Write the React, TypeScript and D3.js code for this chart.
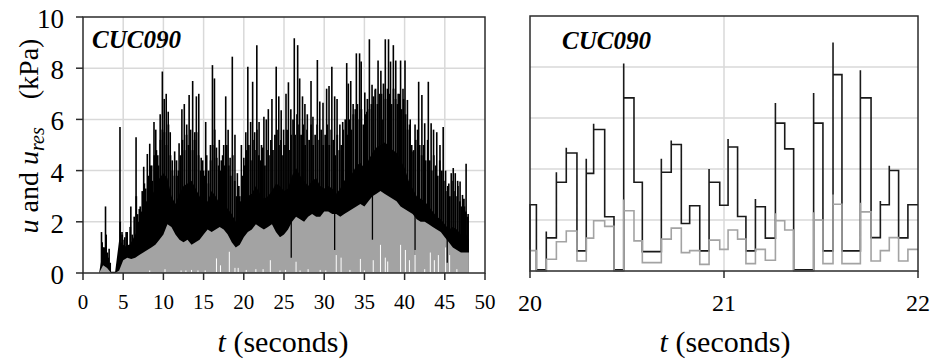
import React from 'react';
import * as d3 from 'd3';

// ---- left panel: whole record, sampled every 0.5 s from t = 2 s ----
const sampleStart = 2;
const sampleStep = 0.5;

// solid black level of u (kPa)
const uBody = [
  0, 0.9, 0.6, 0.05, 0.05, 1.3, 1.1, 1.0, 1.2, 1.5, 1.8, 2.3, 2.8, 3.0, 3.3, 3.7, 3.9, 3.7, 3.0, 2.7,
  3.1, 3.4, 3.5, 3.6, 3.3, 3.0, 2.7, 2.8, 3.2, 3.0, 2.7, 2.8, 2.5, 2.3, 2.0, 1.9, 2.5, 3.0, 3.1, 3.4,
  3.1, 2.9, 3.0, 3.2, 3.5, 3.4, 3.2, 3.3, 3.8, 4.1, 3.8, 3.6, 3.4, 3.6, 3.7, 3.4, 3.3, 3.4, 3.3, 3.1,
  3.3, 3.6, 3.8, 3.9, 4.2, 4.3, 4.1, 4.4, 4.7, 4.9, 5.0, 5.1, 5.0, 4.8, 4.7, 4.4, 4.1, 3.6, 3.3, 3.0,
  2.9, 2.8, 2.6, 2.4, 2.2, 2.1, 1.9, 1.7, 1.8, 1.7, 1.5, 1.6, 1.3,
];

// residual u_res (kPa), same sampling
const uResLevel = [
  0, 0.3, 0.2, 0, 0, 0.1, 0.5, 0.6, 0.55, 0.6, 0.7, 0.8, 0.9, 1.0, 1.1, 1.3, 1.5, 1.9, 1.8, 1.5,
  1.3, 1.2, 1.3, 1.1, 1.2, 1.3, 1.5, 1.7, 1.6, 1.7, 1.8, 1.7, 1.5, 1.2, 1.0, 1.1, 1.4, 1.6, 1.7, 1.9,
  1.8, 1.7, 1.8, 1.9, 1.6, 1.4, 1.5, 1.7, 2.0, 2.2, 2.1, 2.0, 2.2, 2.3, 2.2, 2.2, 2.4, 2.4, 2.3, 2.3,
  2.2, 2.3, 2.4, 2.5, 2.6, 2.7, 2.6, 2.8, 3.0, 3.1, 3.2, 3.1, 3.0, 2.9, 2.8, 2.6, 2.5, 2.4, 2.3, 2.1,
  2.0, 2.0, 1.9, 1.8, 1.7, 1.6, 1.4, 1.2, 1.0, 0.9, 0.8, 0.8, 0.8,
];

// spiky mass of u, one value per 0.25 s from t = 2.125 s (kPa)
const teethStart = 2.125;
const teethStep = 0.25;
const uTeeth = [
  0, 1.2, 1.0, 1.5, 0.6, 0.4, 0, 0, 0, 0.1, 2.0, 1.5,
  1.3, 1.6, 1.1, 1.8, 1.5, 2.2, 3.0, 2.0, 2.6, 3.2, 3.5, 2.8,
  3.8, 4.2, 3.6, 4.6, 4.8, 4.2, 5.2, 5.6, 5.5, 5.0, 5.8, 4.6,
  4.0, 3.8, 4.4, 4.0, 4.6, 5.2, 4.8, 5.4, 5.0, 5.6, 4.8, 5.2,
  5.5, 4.6, 4.0, 4.4, 3.8, 4.6, 4.0, 4.4, 5.0, 5.6, 4.5, 4.2,
  4.0, 4.6, 4.2, 5.0, 4.2, 3.8, 4.6, 3.6, 3.0, 3.4, 2.8, 3.8,
  4.2, 4.8, 5.0, 4.4, 5.2, 4.8, 5.6, 4.6, 4.4, 4.9, 4.2, 4.8,
  4.6, 5.2, 4.8, 5.4, 5.6, 5.0, 5.2, 4.6, 5.0, 5.6, 4.8, 5.4,
  6.0, 5.4, 6.2, 5.8, 5.4, 5.8, 5.0, 5.6, 5.2, 5.8, 5.0, 5.4,
  5.8, 5.2, 5.6, 5.0, 5.4, 5.8, 5.0, 5.6, 5.2, 4.6, 5.4, 4.8,
  5.0, 5.6, 6.0, 5.4, 6.0, 5.6, 6.2, 6.4, 6.6, 6.0, 6.4, 5.8,
  6.2, 6.8, 6.4, 6.6, 6.9, 7.2, 6.6, 7.0, 7.0, 7.4, 6.8, 7.2,
  7.0, 6.6, 7.2, 6.8, 6.6, 7.0, 6.4, 6.8, 6.2, 5.6, 5.8, 5.0,
  4.8, 5.2, 5.6, 5.0, 4.6, 5.0, 4.4, 5.2, 4.4, 4.0, 4.6, 4.2,
  3.8, 4.4, 4.0, 3.6, 3.2, 3.4, 3.0, 3.6, 3.2, 3.0, 3.4, 2.8,
  2.6, 2.9, 2.4, 2.2,
];

// individual peaks of u: [t (s), u (kPa)]
const uSpikes: [number, number][] = [
  [2.3, 1.6], [2.55, 1.0], [2.8, 2.6], [3.05, 0.8], [3.25, 0.95],
  [4.6, 5.7], [4.85, 1.6], [5.2, 1.4], [5.5, 1.6], [5.95, 2.6], [6.6, 5.3], [6.8, 2.3], [7.0, 2.5],
  [7.3, 2.4], [7.55, 4.15], [7.8, 3.3], [8.0, 4.65], [8.3, 5.05], [8.55, 4.2], [8.83, 5.9], [9.05, 5.6],
  [9.3, 4.6], [9.6, 6.2], [9.87, 7.87], [10.1, 6.8], [10.35, 7.0], [10.6, 6.3], [10.85, 5.5], [11.1, 4.4],
  [11.4, 4.75], [11.7, 3.8], [11.95, 5.07], [12.3, 6.4], [12.6, 6.6], [12.9, 5.8], [13.2, 6.95],
  [13.64, 7.5], [13.9, 5.5], [14.1, 6.9], [14.4, 7.0], [14.7, 4.5], [15.0, 4.0], [15.26, 5.9],
  [15.6, 3.5], [15.85, 5.0], [16.1, 8.12], [16.35, 7.6], [16.6, 4.9], [16.95, 5.2], [17.2, 4.4],
  [17.5, 5.0], [17.75, 6.9], [18.05, 5.6], [18.3, 4.5], [18.57, 8.45], [18.9, 5.4], [19.2, 3.9],
  [19.5, 3.0], [19.7, 5.0], [20.0, 4.5], [20.25, 5.5], [20.5, 8.06], [20.85, 5.9], [21.1, 7.47],
  [21.35, 5.5], [21.62, 8.9], [21.9, 5.9], [22.2, 5.0], [22.5, 6.1], [22.8, 6.0], [23.05, 6.4],
  [23.5, 6.8], [24.03, 8.06], [24.35, 6.9], [24.65, 6.36], [24.95, 5.6], [25.25, 7.0], [25.55, 7.45],
  [25.85, 6.4], [26.28, 9.17], [26.7, 8.9], [26.95, 7.6], [27.3, 6.9], [27.6, 6.6], [27.9, 6.2],
  [28.36, 7.5], [28.6, 6.1], [29.15, 8.32], [29.45, 6.7], [29.85, 6.65], [30.3, 7.2], [30.6, 7.3],
  [30.95, 8.06], [31.3, 6.9], [31.6, 6.8], [31.95, 5.8], [32.3, 5.9], [32.8, 8.2], [33.0, 7.4],
  [33.3, 7.5], [33.6, 6.6], [34.0, 8.58], [34.4, 8.58], [34.6, 8.26], [35.05, 7.05], [35.3, 6.3],
  [35.62, 9.13], [35.95, 7.35], [36.35, 7.15], [36.7, 8.3], [37.05, 7.9], [37.3, 6.0], [37.6, 9.13],
  [38.0, 9.13], [38.25, 8.26], [38.6, 8.9], [38.9, 8.3], [39.2, 7.0], [39.5, 8.3], [39.8, 7.2],
  [40.05, 8.3], [40.35, 6.76], [40.7, 6.0], [41.05, 4.75], [41.3, 5.8], [41.75, 7.47], [42.15, 6.95],
  [42.5, 5.85], [42.95, 7.47], [43.3, 5.85], [43.6, 5.6], [44.0, 5.5], [44.4, 5.0], [44.8, 5.7],
  [45.1, 4.0], [45.5, 3.5], [45.8, 3.9], [46.05, 4.1], [46.3, 3.9], [46.6, 3.6], [46.9, 3.57],
  [47.2, 3.05], [47.45, 2.6], [47.65, 4.27], [47.9, 2.3],
];

// moments where u_res drops out: [t, height of the gap]
const resGaps: [number, number][] = [
  [8.3, 0.1], [10.2, 0.15], [12.2, 0.1], [12.8, 0.1], [13.5, 0.12], [14.3, 0.1], [15.2, 0.1],
  [16.6, 0.57], [17.1, 0.3], [18.2, 0.83], [18.9, 0.2], [19.3, 0.2], [20.3, 0.12], [21.5, 0.15],
  [22.4, 0.15], [23.3, 0.5], [24.5, 0.1], [25.2, 0.12], [26.5, 0.44], [27.0, 0.1], [28.0, 0.15],
  [29.5, 0.12], [30.2, 0.1], [31.5, 0.7], [32.1, 0.6], [33.2, 0.12], [34.5, 0.55], [35.0, 0.1],
  [36.1, 0.5], [37.0, 1.1], [37.6, 0.6], [37.9, 0.45], [39.5, 1.1], [40.1, 0.9], [40.6, 0.5],
  [41.3, 0.9], [42.5, 0.15], [43.2, 0.8], [43.7, 0.5], [44.2, 0.7], [45.1, 1.0], [45.6, 0.7], [46.5, 0.15],
];

// moments where u falls below the residual level: [t, u]
const uDips: [number, number][] = [
  [25.9, 0.6], [31.3, 0.9], [36.0, 1.3], [41.3, 0.7], [45.3, 0.4],
];

// ---- right panel: zoom on 20-22 s ----
const stepTimes = [
  20.0, 20.033, 20.084, 20.136, 20.187, 20.242, 20.29, 20.328, 20.385, 20.433, 20.483, 20.536, 20.579,
  20.677, 20.728, 20.78, 20.823, 20.875, 20.923, 20.978, 21.021, 21.07, 21.113, 21.162, 21.213, 21.265,
  21.313, 21.359, 21.462, 21.51, 21.562, 21.608, 21.703, 21.758, 21.806, 21.852, 21.9, 21.948,
];
const stepEnd = 22.0;
const uStep = [
  2.6, 0.05, 1.3, 3.48, 4.63, 0.79, 3.83, 5.55, 2.13, 0.05, 6.79, 3.48, 0.76, 3.87, 4.96, 1.86, 2.56,
  0.79, 3.48, 2.58, 4.86, 2.14, 0.79, 2.52, 1.29, 5.8, 4.79, 0.05, 5.8, 0.79, 7.7, 0.79, 6.79, 1.31,
  2.6, 3.94, 1.3, 2.6,
];
const uStepPeak: (number | null)[] = [
  null, null, 1.55, 3.87, 4.83, null, 4.4, 5.77, null, null, 8.14, null, null, 4.4, 5.12, null, null,
  null, 4.0, null, 5.18, null, null, 2.82, null, 6.59, null, null, 6.98, null, 8.96, null, 7.87, null,
  2.75, 4.13, null, null,
];
const resStep = [
  0.8, 0, 0.46, 1.15, 1.57, 0.39, 1.29, 1.97, 1.75, 0, 2.36, 1.18, 0.33, 1.25, 1.68, 0.72, 0.8, 0.26,
  1.21, 0.85, 1.61, 1.25, 0.29, 0.85, 0.42, 1.97, 1.61, 0, 2.0, 0.29, 2.62, 0.29, 2.32, 0.39, 0.8,
  1.31, 0.39, 0.85,
];
const resStepPeak: (number | null)[] = [
  null, null, null, null, null, null, null, null, null, null, 2.8, null, null, null, null, null, null,
  null, null, null, null, null, null, null, null, 2.26, null, null, 2.3, null, 3.0, null, 2.68, null,
  null, null, null, null,
];

const leftXTicks = [0, 5, 10, 15, 20, 25, 30, 35, 40, 45, 50];
const yTicks = [0, 2, 4, 6, 8, 10];
const rightXTicks = [20, 21, 22];

const serif = 'Times New Roman';
const gridColor = '#d9d9d9';
const frameColor = '#2b2b2b';
const resColor = '#a3a3a3';

function stepPoints(times: number[], vals: number[], peaks: (number | null)[], end: number) {
  const pts: [number, number][] = [];
  let prev = 0;
  times.forEach((t, i) => {
    pts.push([t, prev]);
    const p = peaks[i];
    if (p != null) pts.push([t, p]);
    pts.push([t, vals[i]]);
    prev = vals[i];
    pts.push([i + 1 < times.length ? times[i + 1] : end, prev]);
  });
  return pts;
}

const App = () => {
  const xL = d3.scaleLinear().domain([0, 50]).range([83, 485]);
  const yL = d3.scaleLinear().domain([0, 10]).range([273, 17]);
  const xR = d3.scaleLinear().domain([20, 22]).range([530, 918]);
  const yR = d3.scaleLinear().domain([0, 10]).range([271, 16]);

  const tAt = (i: number) => sampleStart + i * sampleStep;

  const bodyArea = d3.area<number>()
    .x((_, i) => xL(tAt(i)))
    .y0(yL(0))
    .y1(d => yL(d));

  const resAt = (t: number) => {
    const i = Math.min(uResLevel.length - 1, Math.max(0, Math.round((t - sampleStart) / sampleStep)));
    return uResLevel[i];
  };

  const line = d3.line<[number, number]>()
    .x(d => xR(d[0]))
    .y(d => yR(d[1]));

  const uPts = stepPoints(stepTimes, uStep, uStepPeak, stepEnd);
  const resPts = stepPoints(stepTimes, resStep, resStepPeak, stepEnd);

  const txt = { fontFamily: serif };

  return (
    <svg width={934} height={363} style={{ position: 'absolute', left: 0, top: 0, background: '#fff' }}>
      {/* left panel grid */}
      <g stroke={gridColor} strokeWidth={1.5}>
        {leftXTicks.slice(1, -1).map(t => (
          <line key={'gx' + t} x1={xL(t)} x2={xL(t)} y1={yL(0)} y2={yL(10)} />
        ))}
        {yTicks.slice(1, -1).map(v => (
          <line key={'gy' + v} x1={xL(0)} x2={xL(50)} y1={yL(v)} y2={yL(v)} />
        ))}
      </g>

      {/* left panel data */}
      <path d={bodyArea(uBody) || ''} fill="#000" />
      <g stroke="#000" strokeWidth={1.8}>
        {uTeeth.map((v, i) => (
          <line key={'k' + i} x1={xL(teethStart + i * teethStep)} x2={xL(teethStart + i * teethStep)}
            y1={yL(0)} y2={yL(v)} />
        ))}
      </g>
      <g stroke="#000" strokeWidth={1.6}>
        {uSpikes.map(([t, v], i) => (
          <line key={'s' + i} x1={xL(t)} x2={xL(t)} y1={yL(0)} y2={yL(v)} />
        ))}
      </g>
      <path d={bodyArea(uResLevel) || ''} fill={resColor} />
      <g stroke="#000" strokeWidth={1.3}>
        {uDips.map(([t, v], i) => (
          <line key={'d' + i} x1={xL(t)} x2={xL(t)} y1={yL(v)} y2={yL(resAt(t) + 0.3)} />
        ))}
      </g>
      <g stroke="#fff" strokeWidth={1}>
        {resGaps.map(([t, h], i) => (
          <line key={'g' + i} x1={xL(t)} x2={xL(t)} y1={yL(0) - 1} y2={yL(h)} />
        ))}
      </g>

      {/* left panel frame and ticks */}
      <rect x={xL(0)} y={yL(10)} width={xL(50) - xL(0)} height={yL(0) - yL(10)}
        fill="none" stroke={frameColor} strokeWidth={1.5} />
      <g stroke={frameColor} strokeWidth={1.5}>
        {yTicks.map(v => (
          <line key={'ty' + v} x1={xL(0) - 7} x2={xL(0)} y1={yL(v)} y2={yL(v)} />
        ))}
        {leftXTicks.map(t => (
          <line key={'tx' + t} x1={xL(t)} x2={xL(t)} y1={yL(0)} y2={yL(0) + 7} />
        ))}
      </g>
      {yTicks.map(v => (
        <text key={'ly' + v} x={64} y={yL(v) + 11} style={txt} fontSize={27} textAnchor="end">{v}</text>
      ))}
      {leftXTicks.map(t => (
        <text key={'lx' + t} x={xL(t)} y={309} style={txt} fontSize={21} textAnchor="middle">{t}</text>
      ))}
      <text x={283} y={352} style={txt} fontSize={30} textAnchor="middle">
        <tspan fontStyle="italic">t</tspan> (seconds)
      </text>
      <text transform="translate(38,136) rotate(-90)" style={txt} fontSize={28} textAnchor="middle">
        <tspan fontStyle="italic">u</tspan> and <tspan fontStyle="italic">u</tspan>
        <tspan fontStyle="italic" fontSize={20} dy={6}>res</tspan>
        <tspan dy={-6} dx={28}>(kPa)</tspan>
      </text>
      <text x={92} y={48} style={txt} fontSize={25} fontWeight="bold" fontStyle="italic">CUC090</text>

      {/* right panel grid */}
      <g stroke={gridColor} strokeWidth={1.5}>
        <line x1={xR(21)} x2={xR(21)} y1={yR(0)} y2={yR(10)} />
        {yTicks.slice(1, -1).map(v => (
          <line key={'rgy' + v} x1={xR(20)} x2={xR(22)} y1={yR(v)} y2={yR(v)} />
        ))}
      </g>

      {/* right panel data */}
      <path d={line(uPts) || ''} fill="none" stroke="#1a1a1a" strokeWidth={1.6} />
      <path d={line(resPts) || ''} fill="none" stroke={resColor} strokeWidth={1.6} />

      {/* right panel frame and ticks */}
      <rect x={xR(20)} y={yR(10)} width={xR(22) - xR(20)} height={yR(0) - yR(10)}
        fill="none" stroke={frameColor} strokeWidth={1.5} />
      <g stroke={frameColor} strokeWidth={1.5}>
        {rightXTicks.map(t => (
          <line key={'rtx' + t} x1={xR(t)} x2={xR(t)} y1={yR(0)} y2={yR(0) + 7} />
        ))}
      </g>
      {rightXTicks.map(t => (
        <text key={'rlx' + t} x={xR(t)} y={311} style={txt} fontSize={24} textAnchor="middle">{t}</text>
      ))}
      <text x={725} y={352} style={txt} fontSize={30} textAnchor="middle">
        <tspan fontStyle="italic">t</tspan> (seconds)
      </text>
      <text x={562} y={49} style={txt} fontSize={25} fontWeight="bold" fontStyle="italic">CUC090</text>
    </svg>
  );
};

export default App;
